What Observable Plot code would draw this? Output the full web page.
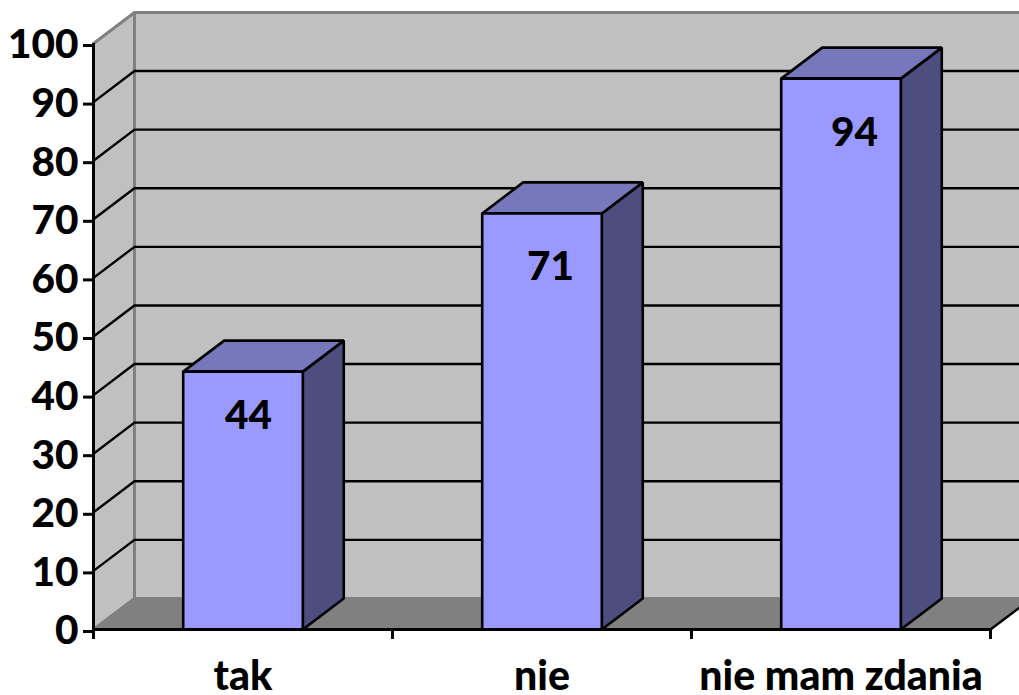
<!DOCTYPE html>
<html>
<head>
<meta charset="utf-8">
<script src="https://cdn.jsdelivr.net/npm/d3@7"></script>
<script src="https://cdn.jsdelivr.net/npm/@observablehq/plot@0.6"></script>
<style>
html,body{margin:0;padding:0;background:#fff;overflow:hidden}
svg{display:block}
</style>
</head>
<body>
<script>
const categories = ["tak", "nie", "nie mam zdania"];
const values = [44, 71, 94];
const labelX = [0.518, 1.528, 2.545];
const labelY = [36.5, 61.8, 84.8];
const yTicks = [0, 10, 20, 30, 40, 50, 60, 70, 80, 90, 100];
const xTicks = [0, 1, 2, 3];
const categoryCenters = [0.5, 1.5, 2.5];

// oblique projection depth, in data units
const depthX = 0.137;
const depthY = 5.3;
const barHalf = 0.2;

const poly = (id, pts) => pts.map(([x, y]) => ({id, x, y}));
const backWall = poly("w", [[depthX, depthY], [3 + depthX, depthY], [3 + depthX, 100 + depthY], [depthX, 100 + depthY], [depthX, depthY]]);
const sideWall = poly("s", [[0, 0], [depthX, depthY], [depthX, 100 + depthY], [0, 100], [0, 0]]);
const floor = poly("f", [[0, 0], [3, 0], [3 + depthX, depthY], [depthX, depthY], [0, 0]]);
const wallEdges = [
  ...poly("e1", [[0, 100], [depthX, 100 + depthY], [3 + depthX, 100 + depthY]]),
  ...poly("e2", [[depthX, 100 + depthY], [depthX, depthY], [3 + depthX, depthY]]),
  ...poly("e3", [[0, 0], [depthX, depthY]])
];
const grid = yTicks.filter(t => t > 0 && t < 100).flatMap(t =>
  poly("g" + t, [[0, t], [depthX, t + depthY], [3 + depthX, t + depthY]]));
const floorRight = poly("r", [[3, 0], [3 + depthX, depthY]]);

const fronts = [], sides = [], tops = [];
values.forEach((v, i) => {
  const a = categoryCenters[i] - barHalf, b = categoryCenters[i] + barHalf;
  fronts.push(...poly("a" + i, [[a, 0], [b, 0], [b, v], [a, v], [a, 0]]));
  sides.push(...poly("b" + i, [[b, 0], [b + depthX, depthY], [b + depthX, v + depthY], [b, v], [b, 0]]));
  tops.push(...poly("c" + i, [[a, v], [b, v], [b + depthX, v + depthY], [a + depthX, v + depthY], [a, v]]));
});
const shape = (d, fill, stroke, strokeWidth) =>
  Plot.line(d, {x: "x", y: "y", z: "id", fill, stroke, strokeWidth, strokeLinejoin: "miter"});

const chart = Plot.plot({
  width: 1019,
  height: 695,
  marginLeft: 93, marginRight: 29, marginTop: 43, marginBottom: 66,
  x: {domain: [0, 3]},
  y: {domain: [0, 100]},
  style: {fontFamily: "Lato", background: "#fff", overflow: "hidden"},
  marks: [
    shape(backWall, "#c0c0c0", "none", 0),
    shape(sideWall, "#c0c0c0", "none", 0),
    shape(floor, "#808080", "none", 0),
    shape(wallEdges, "none", "#808080", 3),
    shape(grid, "none", "#000", 2.4),
    shape(floorRight, "none", "#000", 2.4),
    ...d3.range(values.length).map(i => [
      shape(sides.filter(d => d.id === "b" + i), "#4d4d80", "#000", 2.6),
      shape(tops.filter(d => d.id === "c" + i), "#7777bb", "#000", 2.6),
      shape(fronts.filter(d => d.id === "a" + i), "#9999ff", "#000", 2.6)
    ]).flat(),
    Plot.text(values, {
      x: (d, i) => labelX[i], y: (d, i) => labelY[i], text: d => String(d),
      fontSize: 40.5, fontWeight: 900, fill: "#000"
    }),
    Plot.ruleX([0], {y1: 0, y2: 100, stroke: "#000", strokeWidth: 3}),
    Plot.ruleY([0], {x1: 0, x2: 3, stroke: "#000", strokeWidth: 3}),
    Plot.axisY(yTicks, {
      tickSize: 10, tickPadding: 5, strokeWidth: 3, stroke: "#000", dy: 2,
      fontSize: 40.5, fontWeight: 900, fill: "#000", label: null, anchor: "left"
    }),
    Plot.axisX(xTicks, {
      tickSize: 10, strokeWidth: 3, stroke: "#000", tickFormat: () => "",
      label: null, anchor: "bottom"
    }),
    Plot.axisX(categoryCenters, {
      tickSize: 0, tickPadding: 31, fontSize: 41, fontWeight: 900, fill: "#000",
      tickFormat: (d, i) => categories[i], label: null, anchor: "bottom"
    })
  ]
});
document.body.appendChild(chart);
</script>
</body>
</html>
